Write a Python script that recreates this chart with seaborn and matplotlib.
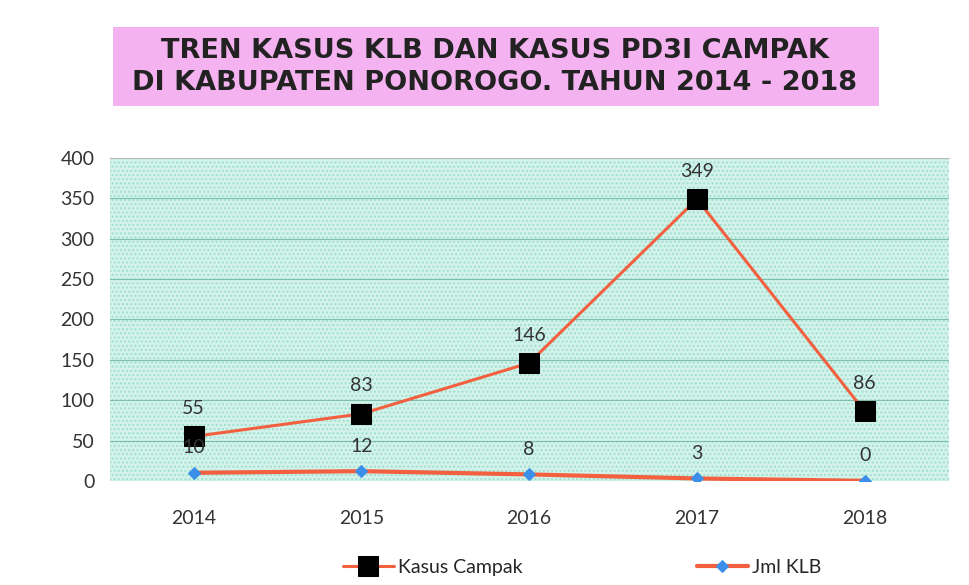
import pandas as pd
import matplotlib.pyplot as plt
import seaborn as sns
from matplotlib.patches import FancyBboxPatch

tahun = ["2014", "2015", "2016", "2017", "2018"]
kasus_campak = [55, 83, 146, 349, 86]
jml_klb = [10, 12, 8, 3, 0]

df = pd.DataFrame({"tahun": tahun, "Kasus Campak": kasus_campak, "Jml KLB": jml_klb})

sns.set_style("white")
plt.rcParams["font.family"] = ["Lato", "DejaVu Sans"]

garis = "#f2603f"
fig = plt.figure(figsize=(9.7, 5.85), dpi=100)
ax = fig.add_axes([0.113, 0.178, 0.865, 0.552])
ax.set_facecolor("#d3f2ea")
ax.patch.set_hatch("....")
ax.patch.set_edgecolor("#9fe0cf")

# garis kasus campak dan jumlah KLB
sns.lineplot(data=df, x="tahun", y="Kasus Campak", ax=ax, color=garis, lw=2.2,
             marker="s", markersize=14, markerfacecolor="black", markeredgecolor="black",
             label="Kasus Campak", sort=False)
sns.lineplot(data=df, x="tahun", y="Jml KLB", ax=ax, color=garis, lw=3,
             marker="D", markersize=6, markerfacecolor="#3b8fe8", markeredgecolor="#3b8fe8",
             label="Jml KLB", sort=False)

for i, v in enumerate(kasus_campak):
    ax.annotate(str(v), (i, v), xytext=(0, 14), textcoords="offset points",
                ha="center", va="bottom", fontsize=14, color="#333333")
for i, v in enumerate(jml_klb):
    ax.annotate(str(v), (i, v), xytext=(0, 12), textcoords="offset points",
                ha="center", va="bottom", fontsize=14, color="#333333")

ax.set_xlim(-0.5, 4.5)
ax.set_ylim(0, 400)
ax.set_yticks(range(0, 401, 50))
ax.yaxis.grid(True, color="#7fbfb0", lw=0.8)
ax.set_axisbelow(True)
ax.set_xlabel("")
ax.set_ylabel("")
ax.tick_params(axis="both", labelsize=14, colors="#333333", length=0)
ax.tick_params(axis="x", pad=21)
ax.tick_params(axis="y", pad=11)
for s in ax.spines.values():
    s.set_visible(False)
ax.spines["top"].set_visible(True)
ax.spines["top"].set_color("#bbbbbb")

ax.get_legend().remove()
h, l = ax.get_legend_handles_labels()
fig.legend(h, l, loc="center", bbox_to_anchor=(0.6, 0.03), ncol=2, frameon=False,
           fontsize=14, columnspacing=9, handlelength=2.6, handletextpad=0.2)

# judul dalam kotak merah muda
fig.patches.append(FancyBboxPatch((0.116, 0.818), 0.79, 0.135, boxstyle="square,pad=0",
                                  transform=fig.transFigure, facecolor="#f4b3f0",
                                  edgecolor="none"))
fig.text(0.51, 0.885, "TREN KASUS KLB DAN KASUS PD3I CAMPAK\nDI KABUPATEN PONOROGO. TAHUN 2014 - 2018",
         ha="center", va="center", fontsize=19.5, fontweight="semibold", color="#222222",
         linespacing=1.3, family=["DejaVu Sans"])

fig.savefig("out.png", dpi=100)
